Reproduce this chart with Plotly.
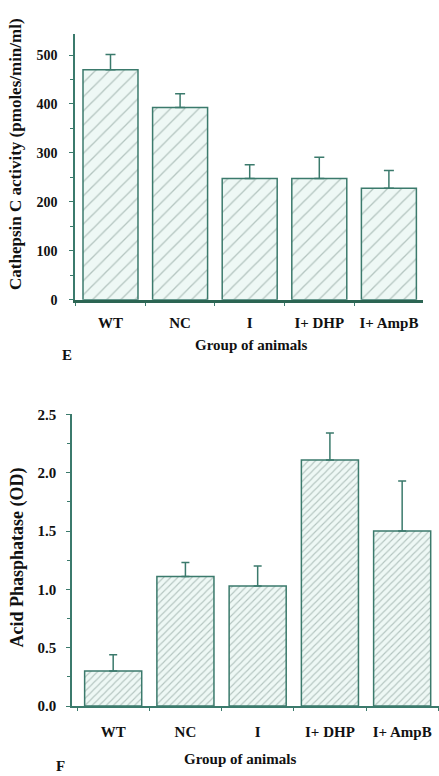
import plotly.graph_objects as go

groups = ["WT", "NC", "I", "I + DHP", "I + AmpB"]
tick_labels = ["WT", "NC", "I", "I+ DHP", "I+ AmpB"]

cathepsin_mean = [470, 393, 248, 248, 228]
cathepsin_err = [31, 28, 28, 43, 36]

acid_mean = [0.30, 1.11, 1.03, 2.11, 1.50]
acid_err = [0.14, 0.12, 0.17, 0.23, 0.43]

TEAL = "#3b7a6c"
DARK = "#2c6553"
HATCH = "#7a918c"
FILL = "#eef8f5"
FONT = "Liberation Serif"
W, H = 439, 776

fig = go.Figure()

fig.add_trace(go.Bar(
    x=groups, y=cathepsin_mean, xaxis="x", yaxis="y", width=0.79,
    marker=dict(color=FILL, line=dict(color=TEAL, width=1.5),
                pattern=dict(shape="/", fgcolor=HATCH, bgcolor=FILL, size=10, solidity=0.13)),
    error_y=dict(type="data", array=cathepsin_err, arrayminus=[0]*5, symmetric=False,
                 color=TEAL, thickness=1.5, width=5),
    showlegend=False))

fig.add_trace(go.Bar(
    x=groups, y=acid_mean, xaxis="x2", yaxis="y2", width=0.79,
    marker=dict(color=FILL, line=dict(color=TEAL, width=1.5),
                pattern=dict(shape="/", fgcolor=HATCH, bgcolor=FILL, size=5, solidity=0.22)),
    error_y=dict(type="data", array=acid_err, arrayminus=[0]*5, symmetric=False,
                 color=TEAL, thickness=1.5, width=4),
    showlegend=False))

def tf(size):
    return dict(family=FONT, size=size, color="#111", weight="bold")

fig.update_layout(
    width=W, height=H,
    margin=dict(l=0, r=0, t=0, b=0),
    paper_bgcolor="white", plot_bgcolor="white",
    xaxis=dict(domain=[75/W, 423/W], anchor="y", type="category",
               categoryorder="array", categoryarray=groups,
               tickvals=groups, ticktext=tick_labels,
               range=[-0.51, 4.49], showline=True, linecolor=DARK, linewidth=2.5,
               ticks="outside", tickson="boundaries", ticklen=3, tickcolor=TEAL,
               ticklabelstandoff=7,
               showgrid=False, zeroline=False, tickfont=tf(15)),
    yaxis=dict(domain=[1-298/H, 1-27/H], anchor="x", range=[0, 542],
               tickvals=[0, 100, 200, 300, 400, 500],
               showline=True, linecolor=TEAL, linewidth=1.5,
               ticks="outside", ticklen=4, tickcolor=TEAL,
               ticklabelstandoff=9,
               minor=dict(ticks="outside", ticklen=3, tickcolor=TEAL, dtick=50, tick0=0),
               showgrid=False, zeroline=False, tickfont=tf(14)),
    xaxis2=dict(domain=[72/W, 1.0], anchor="y2", type="category",
                categoryorder="array", categoryarray=groups,
                tickvals=groups, ticktext=tick_labels,
                range=[-0.57, 4.51], showline=True, linecolor=TEAL, linewidth=2,
                ticks="outside", tickson="boundaries", ticklen=3, tickcolor=TEAL,
                ticklabelstandoff=11,
                showgrid=False, zeroline=False, tickfont=tf(15)),
    yaxis2=dict(domain=[1-712.7/H, 1-415/H], anchor="x2", range=[0, 2.5],
                tickvals=[0, 0.5, 1.0, 1.5, 2.0, 2.5],
                ticktext=["0.0", "0.5", "1.0", "1.5", "2.0", "2.5"],
                showline=True, linecolor=TEAL, linewidth=1.5,
                ticks="outside", ticklen=4, tickcolor=TEAL,
                ticklabelstandoff=7,
                minor=dict(ticks="outside", ticklen=3, tickcolor=TEAL, dtick=0.25, tick0=0),
                showgrid=False, zeroline=False, tickfont=tf(15)),
)

def ann(text, x, y, size, angle=0):
    fig.add_annotation(text=text, x=x/W, y=1-y/H, xref="paper", yref="paper",
                       xanchor="center", yanchor="middle", textangle=angle,
                       showarrow=False, font=tf(size))

ann("Cathepsin C activity (pmoles/min/ml)", 16, 149, 17, -90)
ann("Acid Phasphatase (OD)", 17, 561, 18, -90)
ann("Group of animals", 251, 344, 15)
ann("Group of animals", 240, 767, 15)
ann("E", 67, 354, 15)
ann("F", 60, 774, 15)

fig.write_html("out.html", config={"displayModeBar": False},
               post_script="document.body.style.margin='0px';")
